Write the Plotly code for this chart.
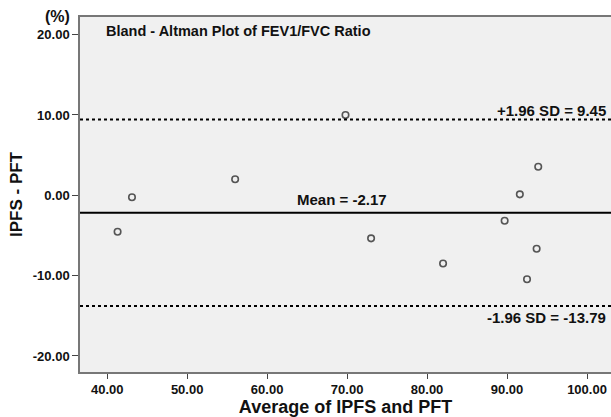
import plotly.graph_objects as go

avg = [41.3, 43.1, 56.0, 69.8, 93.9, 91.6, 73.0, 82.0, 89.7, 93.7, 92.5]
diff = [-4.53, -0.25, 2.0, 10.0, 3.56, 0.12, -5.36, -8.5, -3.16, -6.65, -10.46]
mean_diff = -2.17
upper_loa = 9.45
lower_loa = -13.79
x_ticks = [40, 50, 60, 70, 80, 90, 100]
y_ticks = [-20, -10, 0, 10, 20]

FONT = "Liberation Sans, Arial, sans-serif"

fig = go.Figure()
fig.add_trace(go.Scatter(
    x=avg, y=diff, mode="markers",
    marker=dict(symbol="circle-open", size=6.5, color="#555555", line=dict(width=1.6)),
    showlegend=False, hoverinfo="skip"))

for yv, dash, w in [(mean_diff, "solid", 2), (upper_loa, "dot", 2), (lower_loa, "dot", 2)]:
    fig.add_shape(type="line", xref="paper", x0=0, x1=1, yref="y", y0=yv, y1=yv,
                  line=dict(color="black", width=w, dash=dash))

ann_font = dict(family=FONT, size=15, color="#111", weight="bold")
fig.add_annotation(x=0.995, xref="paper", y=upper_loa, yref="y", yshift=9,
                   text="+1.96 SD = 9.45", showarrow=False, xanchor="right", font=ann_font)
fig.add_annotation(x=0.995, xref="paper", y=lower_loa, yref="y", yshift=-11,
                   text="-1.96 SD = -13.79", showarrow=False, xanchor="right", font=ann_font)
fig.add_annotation(x=69.3, xref="x", y=mean_diff, yref="y", yshift=13,
                   text="Mean = -2.17", showarrow=False, xanchor="center", font=ann_font)
fig.add_annotation(x=0.045, xref="paper", y=0.99, yref="paper", yanchor="top",
                   text="Bland - Altman Plot of FEV1/FVC Ratio", showarrow=False, xanchor="left",
                   font=dict(family=FONT, size=14.5, color="#111", weight="bold"))
fig.add_annotation(x=0, xref="paper", y=1, yref="paper", xshift=-8, yshift=1,
                   text="(%)", showarrow=False, xanchor="right", yanchor="middle",
                   font=dict(family=FONT, size=16, color="#111", weight="bold"))

fig.update_layout(
    width=611, height=417,
    margin=dict(l=80, r=0, t=17, b=45),
    paper_bgcolor="white", plot_bgcolor="#f0f0f0",
    font=dict(family=FONT, color="#111"),
    xaxis=dict(range=[36.6, 103.0], tickvals=x_ticks, ticktext=[f"{v:.2f}" for v in x_ticks],
               showgrid=False, zeroline=False, showline=True, linecolor="#777", linewidth=1.5,
               mirror=True, ticks="outside", ticklen=5, tickcolor="#444",
               tickfont=dict(family=FONT, size=13, weight="bold"),
               title=dict(text="Average of IPFS and PFT", standoff=6,
                          font=dict(family=FONT, size=18, weight="bold"))),
    yaxis=dict(range=[-22.0, 22.2], tickvals=y_ticks, ticktext=[f"{v:.2f}" for v in y_ticks],
               showgrid=False, zeroline=False, showline=True, linecolor="#777", linewidth=1.5,
               ticks="outside", ticklen=6, tickcolor="#444",
               tickfont=dict(family=FONT, size=13, weight="bold"),
               title=dict(text="IPFS - PFT", standoff=6,
                          font=dict(family=FONT, size=17, weight="bold"))),
)

fig.write_html("out.html", config={"displayModeBar": False},
               post_script="document.body.style.margin='0';")
